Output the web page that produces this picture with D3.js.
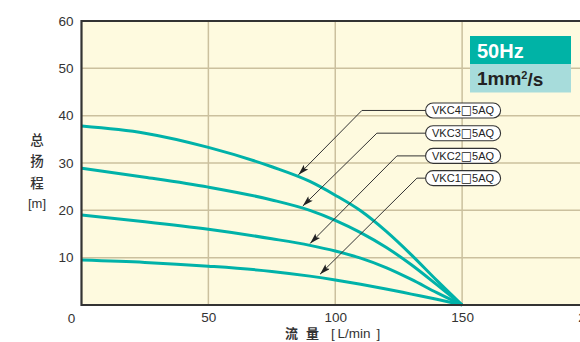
<!DOCTYPE html>
<html><head><meta charset="utf-8">
<script src="https://cdn.jsdelivr.net/npm/d3@7"></script>
<style>body{margin:0;background:#fff}svg{display:block}</style>
</head><body>
<svg id="c" width="580" height="342"></svg>
<script>
const xTicks = [0, 50, 100, 150, 200];
const yTicks = [10, 20, 30, 40, 50, 60];
const seriesNames = ["VKC4", "VKC3", "VKC2", "VKC1"];
const flow = [0, 25, 50, 75, 90, 100, 110, 120, 130, 140, 150];
const headVKC4 = [37.8, 36.3, 33.3, 29.2, 26.1, 23.2, 19.9, 15.6, 10.6, 5.2, 0];
const headVKC3 = [28.9, 27.0, 24.9, 22.2, 20.0, 17.9, 15.3, 12.2, 8.5, 4.3, 0];
const headVKC2 = [19.0, 17.6, 16.0, 14.0, 12.6, 11.4, 9.9, 7.9, 5.4, 2.6, 0];
const headVKC1 = [9.5, 9.0, 8.2, 7.1, 6.1, 5.3, 4.4, 3.4, 2.3, 1.2, 0];
// annotation anchor points (data units): arrow tip, elbow, label
const tipX = [85.5, 87.2, 90.1, 94.0];
const tipY = [27.5, 20.9, 13.0, 6.5];
const elbowX = [110.5, 116.4, 124.3, 132.2];
const elbowY = [41.1, 36.3, 31.5, 26.8];
const labelX = 135.6;

const svg = d3.select("#c");
const L = 81.5, T = 21, B = 305, R = 589;
const x = d3.scaleLinear().domain([0, 200]).range([L, R]);
const y = d3.scaleLinear().domain([0, 60]).range([B, T]);
const teal = "#00b2a9";
const font = "'Liberation Sans', Arial, sans-serif";
const cjk = "'Noto Sans CJK SC', sans-serif";

svg.append("defs").append("marker").attr("id", "ah")
  .attr("viewBox", "0 0 10 6").attr("refX", 10).attr("refY", 3)
  .attr("markerWidth", 11).attr("markerHeight", 6.5).attr("markerUnits", "userSpaceOnUse")
  .attr("orient", "auto")
  .append("path").attr("d", "M0,0 L10,3 L0,6 L2,3 Z").attr("fill", "#222");

svg.append("rect").attr("x", L).attr("y", T).attr("width", R - L).attr("height", B - T).attr("fill", "#fefadf");

// grid
const g = svg.append("g");
g.selectAll("line.h").data(yTicks.filter(d => d < 60)).join("line")
  .attr("x1", L).attr("x2", R).attr("y1", d => y(d)).attr("y2", d => y(d))
  .attr("stroke", "#cbc09e").attr("stroke-width", 1.5);
g.selectAll("line.v").data(xTicks.filter(d => d > 0 && d < 200)).join("line")
  .attr("y1", T).attr("y2", B).attr("x1", d => x(d)).attr("x2", d => x(d))
  .attr("stroke", "#cbc09e").attr("stroke-width", 1.5);

// curves
const line = d3.line().x(d => x(d[0])).y(d => y(d[1])).curve(d3.curveMonotoneX);
const series = [headVKC4, headVKC3, headVKC2, headVKC1].map(h => d3.zip(flow, h));
svg.append("g").selectAll("path").data(series).join("path")
  .attr("d", line).attr("fill", "none").attr("stroke", teal).attr("stroke-width", 3);

// frame
svg.append("path")
  .attr("d", `M${R},${T} H${L} V${B} H${R}`)
  .attr("fill", "none").attr("stroke", "#333").attr("stroke-width", 2.2);

// axes labels
const yAxis = d3.axisLeft(y).tickValues(yTicks).tickSize(0).tickPadding(8);
svg.append("g").attr("transform", `translate(${L},0)`).call(yAxis)
  .call(s => s.select(".domain").remove())
  .selectAll("text").attr("font-family", font).attr("font-size", 13.5).attr("fill", "#333");
const xAxis = d3.axisBottom(x).tickValues(xTicks.filter(d => d > 0)).tickSize(0).tickPadding(7);
svg.append("g").attr("transform", `translate(0,${B})`).call(xAxis)
  .call(s => s.select(".domain").remove())
  .selectAll("text").attr("font-family", font).attr("font-size", 13.5).attr("fill", "#333");
svg.append("text").attr("x", x(0) - 10).attr("y", 318).attr("dy", "0.35em")
  .attr("text-anchor", "middle").attr("font-family", font).attr("font-size", 13.5).attr("fill", "#333")
  .text(xTicks[0]);

// y title
["总", "扬", "程"].forEach((c, i) => {
  svg.append("text").attr("x", 37).attr("y", 140 + i * 21.7).attr("dy", "0.35em")
    .attr("text-anchor", "middle").attr("font-family", cjk).attr("font-size", 13.5)
    .attr("font-weight", 500).attr("fill", "#333").text(c);
});
svg.append("text").attr("x", 37).attr("y", 203.5).attr("dy", "0.35em")
  .attr("text-anchor", "middle").attr("font-family", font).attr("font-size", 13).attr("fill", "#333").text("[m]");
// x title
const xtY = 333.5;
svg.append("text").attr("x", 285).attr("y", xtY).attr("dy", "0.35em")
  .attr("font-family", cjk).attr("font-size", 13).attr("font-weight", 700).attr("fill", "#333").text("流");
svg.append("text").attr("x", 306).attr("y", xtY).attr("dy", "0.35em")
  .attr("font-family", cjk).attr("font-size", 13).attr("font-weight", 700).attr("fill", "#333").text("量");
svg.append("text").attr("x", 331).attr("y", xtY).attr("dy", "0.35em")
  .attr("font-family", font).attr("font-size", 13.5).attr("fill", "#333").text("[");
svg.append("text").attr("x", 337.5).attr("y", xtY).attr("dy", "0.35em")
  .attr("font-family", font).attr("font-size", 13.5).attr("fill", "#333").text("L/min");
svg.append("text").attr("x", 376.5).attr("y", xtY).attr("dy", "0.35em")
  .attr("font-family", font).attr("font-size", 13.5).attr("fill", "#333").text("]");

// annotations
const ann = svg.append("g");
seriesNames.forEach((name, i) => {
  ann.append("path")
    .attr("d", `M${x(labelX)},${y(elbowY[i])} H${x(elbowX[i])} L${x(tipX[i])},${y(tipY[i])}`)
    .attr("fill", "none").attr("stroke", "#333").attr("stroke-width", 1)
    .attr("marker-end", "url(#ah)");
  const bx = x(labelX), by = y(elbowY[i]);
  ann.append("rect").attr("x", bx).attr("y", by - 7.5).attr("width", 75).attr("height", 15)
    .attr("rx", 7.5).attr("fill", "#fff").attr("stroke", "#333").attr("stroke-width", 1.1);
  const t = ann.append("text").attr("x", bx + 37.5).attr("y", by).attr("dy", "0.36em")
    .attr("text-anchor", "middle").attr("font-family", font).attr("font-size", 11).attr("fill", "#222");
  t.append("tspan").text(name);
  t.append("tspan").attr("font-family", "'DejaVu Sans', sans-serif").attr("font-size", 12).text("□");
  t.append("tspan").text("5AQ");
});

// condition box
svg.append("rect").attr("x", 470).attr("y", 36).attr("width", 101).attr("height", 28).attr("fill", "#00b3a6");
svg.append("rect").attr("x", 470).attr("y", 64).attr("width", 101).attr("height", 28.5).attr("fill", "#a7dcdb");
svg.append("text").attr("x", 477).attr("y", 50.5).attr("dy", "0.36em")
  .attr("font-family", font).attr("font-weight", 700).attr("font-size", 20).attr("fill", "#fff").text("50Hz");
const t2 = svg.append("text").attr("x", 477).attr("y", 78.5).attr("dy", "0.36em")
  .attr("font-family", font).attr("font-weight", 700).attr("font-size", 19).attr("fill", "#222");
t2.append("tspan").text("1mm");
t2.append("tspan").attr("font-size", 11).attr("dy", "-0.55em").text("2");
t2.append("tspan").attr("dy", "0.35em").text("/s");
</script>
</body></html>
